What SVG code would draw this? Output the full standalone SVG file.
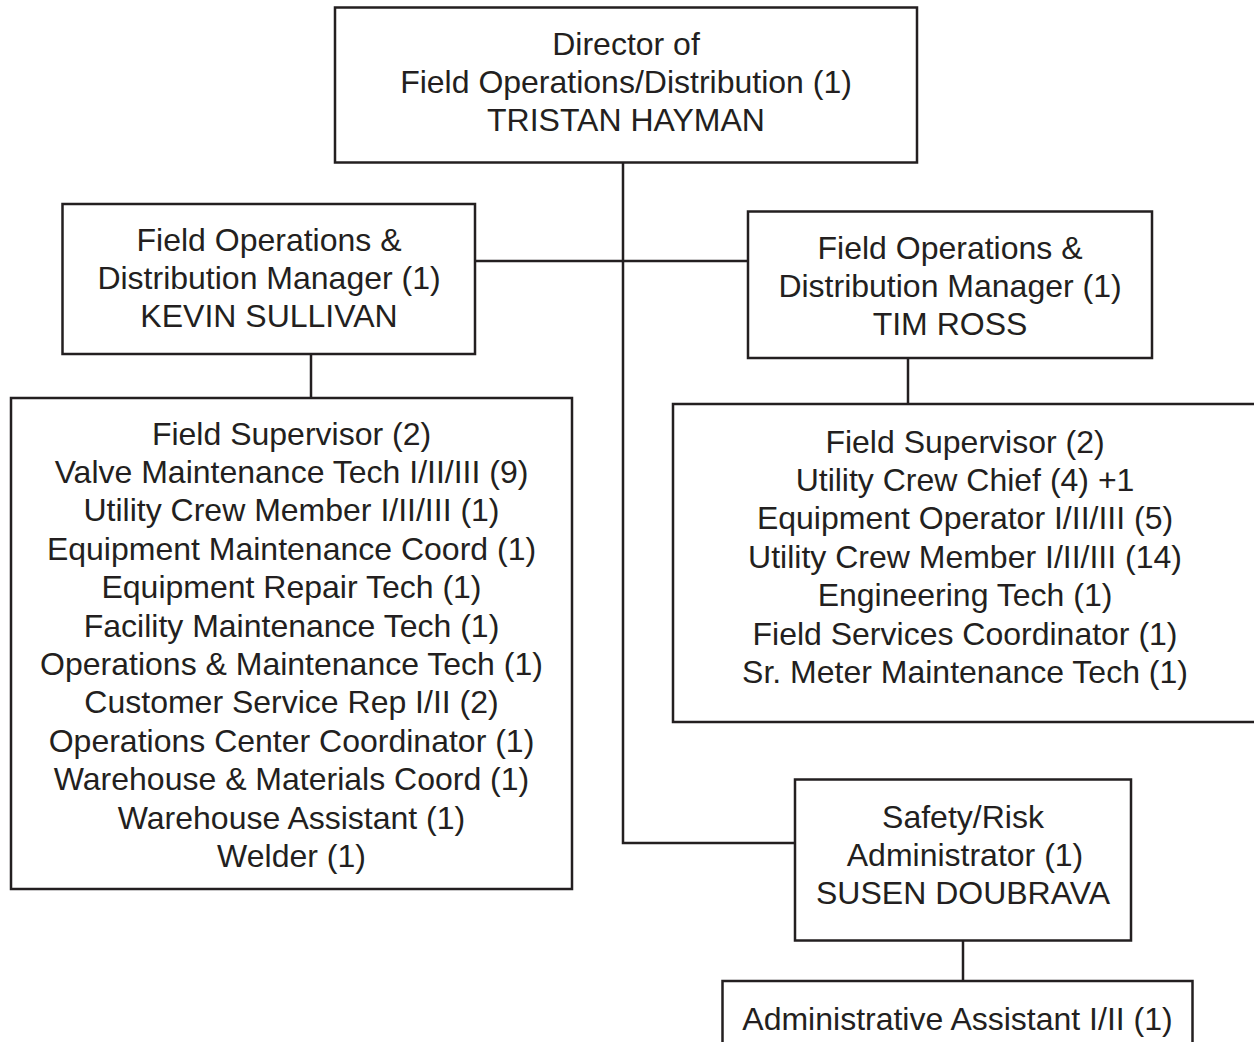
<svg xmlns="http://www.w3.org/2000/svg" width="1254" height="1042" viewBox="0 0 1254 1042">
  <style>
    .box { fill: #ffffff; stroke: #231f20; stroke-width: 2.5; }
    .wire { fill: none; stroke: #231f20; stroke-width: 2.5; }
    text { font-family: "Liberation Sans", Arial, Helvetica, sans-serif; font-size: 32px; fill: #231f20; text-anchor: middle; }
  </style>
  <rect x="0" y="0" width="1254" height="1042" fill="#ffffff"/>

  <!-- reporting lines -->
  <g id="connectors">
    <path class="wire" d="M623 162 V843 H795"/>
    <path class="wire" d="M475 261 H748"/>
    <path class="wire" d="M311 354 V398"/>
    <path class="wire" d="M908 358 V404"/>
    <path class="wire" d="M963 940 V981"/>
  </g>

  <g id="director">
    <rect class="box" x="335" y="7.5" width="582" height="155"/>
    <text x="626" y="54.5">Director of</text>
    <text x="626" y="92.5">Field Operations/Distribution (1)</text>
    <text x="626" y="131">TRISTAN HAYMAN</text>
  </g>

  <g id="manager-sullivan">
    <rect class="box" x="62.5" y="204" width="412.5" height="150"/>
    <text x="269" y="250.5">Field Operations &amp;</text>
    <text x="269" y="288.5">Distribution Manager (1)</text>
    <text x="269" y="327">KEVIN SULLIVAN</text>
  </g>

  <g id="manager-ross">
    <rect class="box" x="748" y="211.5" width="404" height="146.5"/>
    <text x="950" y="258.5">Field Operations &amp;</text>
    <text x="950" y="297">Distribution Manager (1)</text>
    <text x="950" y="335">TIM ROSS</text>
  </g>

  <g id="staff-sullivan">
    <rect class="box" x="11" y="398" width="561" height="491"/>
    <text x="291.5" y="444.5">Field Supervisor (2)</text>
    <text x="291.5" y="482.9">Valve Maintenance Tech I/II/III (9)</text>
    <text x="291.5" y="521.3">Utility Crew Member I/II/III (1)</text>
    <text x="291.5" y="559.7">Equipment Maintenance Coord (1)</text>
    <text x="291.5" y="598.1">Equipment Repair Tech (1)</text>
    <text x="291.5" y="636.5">Facility Maintenance Tech (1)</text>
    <text x="291.5" y="674.9">Operations &amp; Maintenance Tech (1)</text>
    <text x="291.5" y="713.3">Customer Service Rep I/II (2)</text>
    <text x="291.5" y="751.7">Operations Center Coordinator (1)</text>
    <text x="291.5" y="790.1">Warehouse &amp; Materials Coord (1)</text>
    <text x="291.5" y="828.5">Warehouse Assistant (1)</text>
    <text x="291.5" y="866.9">Welder (1)</text>
  </g>

  <g id="staff-ross">
    <rect class="box" x="673" y="404" width="584" height="318"/>
    <text x="965" y="452.5">Field Supervisor (2)</text>
    <text x="965" y="490.9">Utility Crew Chief (4) +1</text>
    <text x="965" y="529.3">Equipment Operator I/II/III (5)</text>
    <text x="965" y="567.7">Utility Crew Member I/II/III (14)</text>
    <text x="965" y="606.1">Engineering Tech (1)</text>
    <text x="965" y="644.5">Field Services Coordinator (1)</text>
    <text x="965" y="682.9">Sr. Meter Maintenance Tech (1)</text>
  </g>

  <g id="safety-risk">
    <rect class="box" x="795" y="779.5" width="336" height="161"/>
    <text x="963" y="827.5">Safety/Risk</text>
    <text x="965" y="866">Administrator (1)</text>
    <text x="963" y="904">SUSEN DOUBRAVA</text>
  </g>

  <g id="admin-assistant">
    <rect class="box" x="722.5" y="981" width="470" height="80"/>
    <text x="957.5" y="1029.5">Administrative Assistant I/II (1)</text>
  </g>
</svg>
